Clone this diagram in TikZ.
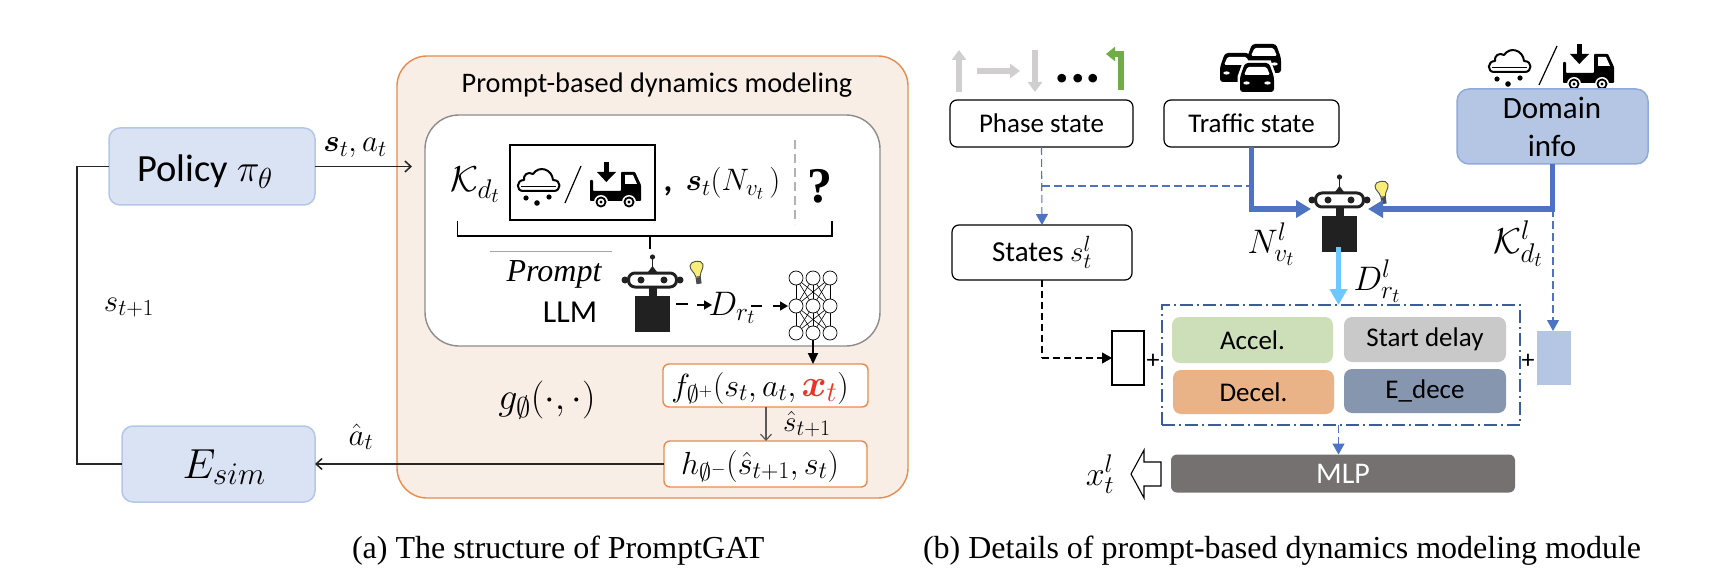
\documentclass[tikz,border=0pt]{standalone}
\usepackage{fix-cm}
\usepackage{amsmath}
\usepackage{fontspec}
\setmainfont{Carlito}
\newfontfamily\capfont{Liberation Serif}
\usetikzlibrary{arrows.meta}
\newcommand\pxs[1]{\fontsize{#1}{#1}\selectfont}
\newcommand\mathz[3]{\DeclareMathSizes{#1}{#1}{#2}{#3}}
\mathz{27}{20}{15}\mathz{29}{22}{17}\mathz{30}{22.5}{17.5}\mathz{31}{23}{18}\mathz{32}{24}{18.5}
\mathz{34}{25.5}{20}\mathz{36}{27}{21}\mathz{38}{28.5}{22}\mathz{38.5}{29}{22}\mathz{42}{31.5}{24}
\definecolor{pblue}{HTML}{DAE3F3}
\definecolor{pblueb}{HTML}{B4C7E7}
\definecolor{dblue}{HTML}{B4C6E3}
\definecolor{dblueb}{HTML}{8FAADC}
\definecolor{lineblue}{HTML}{4F73C3}
\definecolor{navy}{HTML}{3D5C9A}
\definecolor{skyb}{HTML}{6CC8FF}
\definecolor{orangeb}{HTML}{E88B4E}
\definecolor{panelbg}{HTML}{F8EEE6}
\definecolor{gryline}{HTML}{8C8C8C}
\definecolor{arrgray}{HTML}{D0CECE}
\definecolor{arrgreen}{HTML}{70AD47}
\definecolor{accelc}{HTML}{CDDFB8}
\definecolor{startc}{HTML}{C9C9C9}
\definecolor{decelc}{HTML}{E9B287}
\definecolor{edecec}{HTML}{8696AE}
\definecolor{mlpc}{HTML}{767171}
\definecolor{bulbc}{HTML}{F7EE7A}
\definecolor{xred}{HTML}{EE3322}
\tikzset{
 x=1pt,y=-1pt,
 every node/.style={outer sep=0pt,inner sep=0pt,text=black},
 softbox/.style={draw=pblueb,fill=pblue,line width=1.5pt,rounded corners=11pt},
 wbox/.style={draw=black,fill=white,line width=1.2pt,rounded corners=7pt,font=\pxs{27}},
 obox/.style={draw=orangeb,fill=white,line width=1.4pt,rounded corners=6pt},
 tile/.style={rounded corners=8pt,font=\pxs{27}},
 bluedash/.style={draw=lineblue,line width=1.1pt,dash pattern=on 8pt off 4pt},
 bluedtip/.style={-{Triangle[length=11pt,width=12pt]}},
 thickblue/.style={draw=lineblue,line width=5.5pt,-{Triangle[length=15pt,width=17pt]}},
 grayarr/.style={draw=arrgray,line width=5.5pt,-{Triangle[length=10pt,width=14pt]}},
 solidarr/.style={draw=black!85,line width=1.5pt},
 nnode/.style={circle,draw=black,fill=white,line width=.7pt,minimum size=14pt},
 cloudicon/.pic={
  \draw[black,line width=2pt,line join=round] (5,23) -- (36,23) .. controls (43,23) and (44,12) .. (35,12) .. controls (34,1) and (21,-3) .. (15,6) .. controls (10,3) and (5,7) .. (6,12) .. controls (-2,12) and (-2,23) .. (5,23);
  \draw[black,line width=1.4pt] (3,18.5) -- (38,18.5);
  \fill[black] (8,30) circle[radius=2.6] (19,35) circle[radius=2.8] (31,29) circle[radius=2.6];
 },
 truckicon/.pic={
  \fill[black] (13.5,0) rectangle (19,10);
  \fill[black] (7,10) -- (26,10) -- (16.3,20) -- cycle;
  \fill[black,rounded corners=.8pt] (0,18) -- (3,18) -- (3,29) -- (31,29) -- (31,10) -- (45,10) -- (51,23) -- (51,39) -- (0,39) -- cycle;
  \fill[white] (35,13) -- (43,13) -- (47,22) -- (35,22) -- cycle;
  \foreach \wx in {11,39}{
   \fill[white] (\wx,40) circle[radius=7];
   \fill[black] (\wx,40) circle[radius=5.5];
   \fill[white] (\wx,40) circle[radius=3.4];
   \fill[black] (\wx,40) circle[radius=1.6];
  }
 },
 caricon/.pic={
  \fill[black,rounded corners=3pt] (-17,0) -- (-17,-15) -- (-12,-29) -- (12,-29) -- (17,-15) -- (17,0) -- cycle;
  \fill[white,rounded corners=1.5pt] (-9.5,-25) -- (9.5,-25) -- (13,-17) -- (-13,-17) -- cycle;
  \fill[white] (-10.5,-9) ellipse[x radius=3.2,y radius=1.6] (10.5,-9) ellipse[x radius=3.2,y radius=1.6];
 },
 roboticon/.pic={
  \fill[black!87] (-27.5,8) circle[radius=3.5] (27.5,8) circle[radius=3.5];
  \draw[black!87,fill=white,line width=3pt,rounded corners=6.5pt] (-24,1) rectangle (24,15);
  \fill[black!87] (-11.5,8) circle[radius=3.5] (11.5,8) circle[radius=3.5];
  \fill[black!87] (0,-15) circle[radius=2.6];
  \draw[black!87,line width=1.5pt] (0,-15) -- (0,-3);
  \fill[black!87] (-4.5,0) -- (4.5,0) -- (0,-6) -- cycle;
  \fill[black!87] (-4,15) rectangle (4,25);
  \fill[black!87] (-17.5,24) rectangle (17.5,60);
 },
 bulbicon/.pic={
  \draw[black!70,fill=bulbc,line width=.9pt,rotate=8] (-2.2,15) .. controls (-3,9) and (-7,8) .. (-6.5,3) .. controls (-6,-2) and (6,-2) .. (6.5,3) .. controls (7,8) and (3,9) .. (2.2,15) -- cycle;
  \fill[black!70,rotate=8] (-2.6,15.5) rectangle (2.6,22);
 }
}
\begin{document}
\begin{tikzpicture}
\useasboundingbox (0,0) rectangle (1710,580);
\fill[white] (0,0) rectangle (1710,580);
% ---------- (a)
\node[draw=orangeb,fill=panelbg,line width=1.4pt,rounded corners=30pt,minimum width=511pt,minimum height=442pt] (panel) at (652.5,277) {};
\node[font=\pxs{28.3}] (ptitle) at (657,85) {Prompt-based dynamics modeling};
\node[draw=gryline,fill=white,line width=1.4pt,rounded corners=34pt,minimum width=455pt,minimum height=231pt] (inner) at (652.5,230.5) {};
\node[softbox,minimum width=206pt,minimum height=77pt] (policy) at (212,166.5) {};
\node[font=\pxs{38.5},anchor=base] (policyt) at (205,182) {Policy $\pi_\theta$};
\node[softbox,minimum width=193pt,minimum height=76pt] (esim) at (218.5,464) {};
\node[font=\pxs{42},anchor=base] (esimt) at (224,478) {$E_{sim}$};
\coordinate (pin) at (412,166.5);
\coordinate (lt) at (77,166.5);
\coordinate (lb) at (77,464);
\draw[solidarr] (policy.west) -- (lt) -- (lb) -- (esim.west);
\draw[solidarr,-{Straight Barb[length=6pt,width=11pt]}] (policy.east) -- (pin);
\node[font=\pxs{31},anchor=base] (sa) at (355,152) {$\boldsymbol{s}_t,a_t$};
\node[font=\pxs{31},anchor=base] (st1) at (129,311) {$s_{t+1}$};
\node[font=\pxs{31},anchor=base] (ahat) at (361,445) {$\hat a_t$};
% prompt row
\node[font=\pxs{36},anchor=base] (kd) at (475,192) {$\mathcal{K}_{d_t}$};
\node[draw=black,line width=1.1pt,fill=white,minimum width=145pt,minimum height=75pt] (pbox) at (582.5,182.5) {};
\pic at (518,168) {cloudicon};
\draw[black,line width=1.2pt] (581,166) -- (565,203);
\pic at (590,162) {truckicon};
\node[font=\bfseries\pxs{34},anchor=base] (comma) at (668,192) {,};
\node[font=\pxs{31},anchor=base] (snv) at (733,191) {$\boldsymbol{s}_t(N_{v_t}\,)$};
\coordinate (da) at (795,140);
\coordinate (db) at (795,224);
\draw[draw=black!30,line width=2.2pt,dash pattern=on 9pt off 5pt] (da) -- (db);
\node[font=\capfont\bfseries\pxs{50},anchor=base] (qm) at (820,203) {?};
\coordinate (bl) at (457.5,221);
\coordinate (blc) at (457.5,236);
\coordinate (brc) at (832,236);
\coordinate (br) at (832,221);
\coordinate (bm) at (650,236);
\coordinate (bd) at (650,249);
\draw[black,line width=1.6pt] (bl) -- (blc) -- (brc) -- (br);
\draw[black,line width=1.6pt] (bm) -- (bd);
\coordinate (pl) at (490,251);
\coordinate (pr) at (612,251);
\draw[black!35,line width=1pt] (pl) -- (pr);
\node[font=\capfont\itshape\pxs{32},anchor=base] (prompt) at (554,281) {Prompt};
\node[font=\pxs{32},anchor=base] (llm) at (570,322) {LLM};
\pic at (652.5,272) {roboticon};
\pic at (696,262) {bulbicon};
\node[font=\pxs{34},anchor=base] (dr) at (732,315) {$D_{r_t}$};
\coordinate (d1) at (676,304);
\coordinate (d2) at (688,304);
\coordinate (d3) at (697,305);
\coordinate (d4) at (712,305);
\coordinate (d5) at (751,306);
\coordinate (d6) at (762,306);
\coordinate (d7) at (773,306);
\coordinate (d8) at (788,306);
\draw[black,line width=1.6pt] (d1) -- (d2);
\draw[black,line width=1.6pt,-{Triangle[length=8pt,width=9pt]}] (d3) -- (d4);
\draw[black,line width=1.6pt] (d5) -- (d6);
\draw[black,line width=1.6pt,-{Triangle[length=8pt,width=9pt]}] (d7) -- (d8);
\foreach \c/\xx in {1/796,2/813,3/830}{
 \foreach \r/\yy in {1/278,2/306,3/333}{
  \node[nnode] (n\r\c) at (\xx,\yy) {};
 }
}
\foreach \a in {1,2,3}{\foreach \b in {1,2,3}{
 \draw[black,line width=.6pt] (n1\a) -- (n2\b);
 \draw[black,line width=.6pt] (n2\a) -- (n3\b);
}}
\node[obox,minimum width=205pt,minimum height=43pt] (fb) at (765.5,385.5) {};
\node[font=\pxs{32},anchor=base] (ft) at (760,396) {$f_{\emptyset^+}(s_t,a_t,\textcolor{xred}{\mbox{\pxs{38}$\boldsymbol{x}_t$}})$};
\node[obox,minimum width=203pt,minimum height=46pt] (hb) at (765.5,464) {};
\node[font=\pxs{32},anchor=base] (ht) at (760,474) {$h_{\emptyset^-}(\hat s_{t+1},s_t)$};
\node[font=\pxs{38},anchor=base] (gt) at (547,409) {$g_{\emptyset}(\cdot,\cdot)$};
\draw[black,line width=2pt,-{Triangle[length=11pt,width=10pt]}] (n32.south) -- (fb.north -| n32.south);
\coordinate (fh) at (766,407);
\coordinate (hf) at (766,441);
\draw[draw=black!65,line width=1.2pt,-{Straight Barb[length=6pt,width=11pt]}] (fh) -- (hf);
\node[font=\pxs{29},anchor=base] (shat) at (807,431) {$\hat s_{t+1}$};
\draw[solidarr,-{Straight Barb[length=6pt,width=11pt]}] (hb.west) -- (esim.east);
\node[font=\capfont\pxs{32},anchor=base west] (capa) at (352,558) {(a) The structure of PromptGAT};
% ---------- (b)
\draw[grayarr] (959,92) -- (959,50);
\draw[grayarr] (977,71) -- (1020,71);
\draw[grayarr] (1035,50) -- (1035,92);
\node[font=\bfseries\pxs{58},anchor=base] (dots) at (1078,83) {...};
\draw[draw=arrgreen,line width=6pt,-{Triangle[length=9pt,width=14pt]}] (1121,90) -- (1121,54) -- (1106,54);
\pic at (1264,73) {caricon};
\pic at (1237,82) {caricon};
\draw[white,line width=5pt] (1257,92) ++(-17,0) -- ++(0,-15) -- ++(5,-14) -- ++(24,0) -- ++(5,14) -- ++(0,15);
\pic at (1257,92) {caricon};
\node[wbox,minimum width=183pt,minimum height=47pt] (phase) at (1041.5,123.5) {Phase state};
\node[wbox,minimum width=175pt,minimum height=47pt] (traffic) at (1251.5,123.5) {Traffic state};
\node[wbox,minimum width=180pt,minimum height=55pt,font=\pxs{29}] (states) at (1042,252.5) {States $s^l_t$};
\pic at (1489,49) {cloudicon};
\draw[black,line width=1.2pt] (1557,46) -- (1539,85);
\pic at (1563,44) {truckicon};
\node[draw=dblueb,fill=dblue,line width=1.5pt,rounded corners=12pt,minimum width=191pt,minimum height=75pt] (domain) at (1552.5,126.5) {};
\node[font=\pxs{31},anchor=base] (dom1) at (1552,119) {Domain};
\node[font=\pxs{31},anchor=base] (dom2) at (1552,157) {info};
\pic at (1339.5,192) {roboticon};
\pic at (1381,182) {bulbicon};
\coordinate (jt) at (1250,186);
\draw[bluedash] (phase.south |- jt) -- (jt);
\draw[bluedash,bluedtip] (phase.south) -- (states.north);
\coordinate (rl) at (1311,209);
\coordinate (rr) at (1368,209);
\draw[thickblue] (traffic.south) |- (rl);
\draw[thickblue] (domain.south) |- (rr);
\node[font=\pxs{34},anchor=base] (nv) at (1271,253) {$N^l_{v_t}$};
\node[font=\pxs{36},anchor=base] (kl) at (1518,253) {$\mathcal{K}^l_{d_t}$};
\node[font=\pxs{34},anchor=base] (dl) at (1377,290) {$D^l_{r_t}$};
% dash box
\node[draw=navy,line width=1.4pt,dash pattern=on 13pt off 4pt on 2pt off 4pt,minimum width=358pt,minimum height=120pt] (group) at (1341,365) {};
\node[tile,fill=accelc,minimum width=161pt,minimum height=46pt] (accel) at (1252.5,340) {Accel.};
\node[tile,fill=startc,minimum width=162pt,minimum height=45pt] (start) at (1425,339.5) {Start delay};
\node[tile,fill=decelc,minimum width=161pt,minimum height=44pt] (decel) at (1253.5,392) {Decel.};
\node[tile,fill=edecec,minimum width=162pt,minimum height=44pt] (edece) at (1425,391) {E\_dece};
\node[rounded corners=6pt,fill=mlpc,minimum width=344pt,minimum height=38pt,font=\pxs{30},text=white] (mlp) at (1343,473.5) {MLP};
\node[draw=black,fill=white,line width=1.3pt,minimum width=32pt,minimum height=54pt] (wrect) at (1128,358) {};
\node[fill=dblue,minimum width=34pt,minimum height=54pt] (brect) at (1554,358) {};
\node[font=\pxs{26}] (p1) at (1153,361) {+};
\node[font=\pxs{26}] (p2) at (1528,361) {+};
\coordinate (rb) at (1338.5,247);
\draw[draw=skyb,line width=4.5pt,-{Triangle[length=16pt,width=17pt]}] (rb) -- (group.north -| rb);
\coordinate (ws) at (1042,358);
\draw[draw=black,line width=1.1pt,dash pattern=on 7pt off 4pt] (states.south) -- (ws);
\draw[draw=black,line width=1.1pt,dash pattern=on 7pt off 4pt,-{Triangle[length=10pt,width=11pt]}] (ws) -- (wrect.west);
\coordinate (dj) at (1553,209);
\draw[bluedash,bluedtip] (dj) -- (brect.north -| dj);
\draw[bluedash,bluedtip] (group.south -| rb) -- (mlp.north -| rb);
\draw[draw=black,fill=white,line width=1.1pt] (1161,462) -- (1144,462) -- (1144,450) -- (1131,474) -- (1144,498) -- (1144,486) -- (1161,486) -- cycle;
\node[font=\pxs{34},anchor=base] (xl) at (1100,485) {$x^l_t$};
\node[font=\capfont\pxs{32},anchor=base west] (capb) at (923,558) {(b) Details of prompt-based dynamics modeling module};
\end{tikzpicture}
\end{document}
